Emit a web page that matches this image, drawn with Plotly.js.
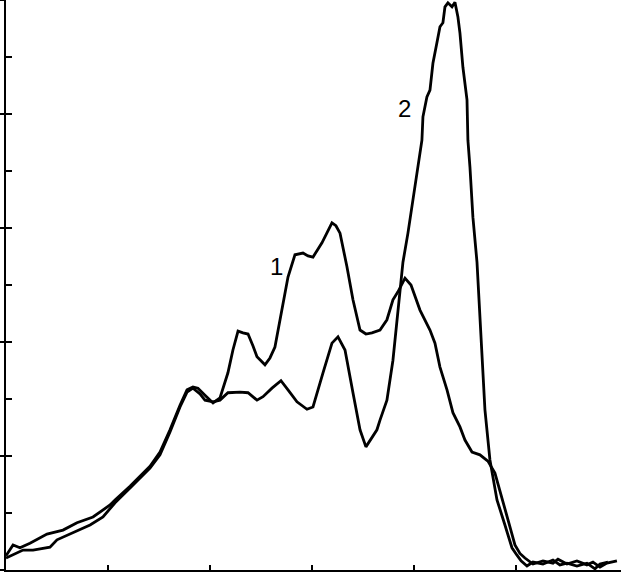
<!DOCTYPE html>
<html>
<head>
<meta charset="utf-8">
<script src="https://cdn.plot.ly/plotly-3.0.1.min.js"></script>
<style>html,body{margin:0;padding:0;background:#fff;}#chart{width:621px;height:573px;}</style>
</head>
<body>
<div id="chart"></div>
<script>
// Curve 1
const x1 = [0, 6.9, 13.7, 23.5, 40.2, 55.9, 69.6, 85.3, 102, 106.9, 121.6, 141.2, 151, 160.8, 170.6, 177.5, 183.3, 188.2, 196.1, 203, 209.8, 217.6, 222.5, 227.5, 232.4, 237.3, 242.2, 246.1, 253.9, 258.8, 263.7, 270.6, 276.5, 283.3, 291.2, 296.1, 301, 309.8, 314.7, 319.6, 323.5, 327.5, 334.3, 340.2, 347.1, 352.9, 358.8, 366.7, 373.5, 379.4, 384.3, 391.2, 397.1, 405.9, 415.7, 420.6, 425.5, 432.4, 438.2, 445.1, 450, 456.9, 464.7, 472.5, 479.4, 486.3, 492.2, 499, 503.9, 508.8, 516.7, 526.5, 536.3, 541.2, 550, 559.8, 569.6, 575.5, 582.4, 589.2, 599];
const y1 = [2.5, 4.4, 3.9, 4.7, 6.3, 7.0, 8.3, 9.3, 11.4, 12.3, 14.7, 18.2, 20.7, 24.6, 28.9, 31.6, 32.1, 31.9, 30.5, 29.3, 30.2, 34.6, 38.6, 41.9, 41.6, 41.4, 39.3, 37.4, 36.0, 37.2, 39.1, 45.6, 51.4, 55.3, 55.6, 55.1, 54.9, 57.4, 59.3, 60.9, 60.4, 59.1, 53.2, 47.4, 42.1, 41.4, 41.6, 42.1, 43.9, 47.4, 48.8, 51.2, 50.0, 45.6, 42.1, 39.8, 35.6, 31.6, 27.6, 25.1, 22.8, 20.7, 20.2, 19.1, 17.0, 12.8, 8.8, 4.4, 2.9, 2.1, 1.05, 1.6, 1.2, 1.9, 1.05, 1.6, 0.9, 1.4, 0.5, 1.2, 1.6];

// Curve 2
const x2 = [0, 10.8, 16.7, 26.5, 43.1, 50, 65.7, 82.4, 95.1, 106.9, 121.6, 141.2, 151, 160.8, 170.6, 177.5, 183.3, 190.2, 195.1, 203, 209.8, 217.6, 229.4, 237.3, 246.1, 252, 260.8, 269.6, 276.5, 285.3, 295.1, 301, 310.8, 319.6, 325.5, 332.4, 340.2, 347.1, 352.9, 363.7, 366.7, 373.5, 379.4, 384.3, 389.2, 394.1, 399, 403.9, 407.8, 408.8, 412.7, 415.7, 418.6, 422.5, 425.5, 428.4, 430.4, 433.3, 437.3, 440.2, 443.1, 445.1, 448, 452, 452.9, 454.9, 457.8, 461.8, 464.7, 467.6, 469.6, 474.5, 481.4, 489.2, 496.1, 501, 505, 510.8, 516.7, 526.5, 536.3, 543.1, 550, 559.8, 569.6, 577.5, 582.4, 590.2, 599];
const y2 = [2.1, 3.0, 3.5, 3.5, 4.0, 5.3, 6.5, 7.9, 9.3, 11.8, 14.4, 17.9, 20.2, 24.2, 28.6, 31.2, 31.9, 30.9, 29.8, 29.5, 29.8, 31.1, 31.2, 31.1, 29.8, 30.4, 31.9, 33.2, 31.6, 29.5, 28.2, 28.6, 34.6, 39.8, 40.9, 38.6, 31.1, 24.6, 21.6, 24.6, 26.3, 29.8, 36.8, 45.6, 54.0, 59.1, 64.9, 70.7, 75.4, 79.5, 83.0, 84.2, 88.9, 92.5, 95.3, 96.0, 98.8, 99.5, 98.8, 99.6, 97.0, 94.2, 88.2, 82.5, 75.4, 70.7, 61.9, 54.0, 43.9, 35.1, 28.1, 19.3, 12.3, 7.9, 3.9, 2.6, 1.6, 0.7, 1.4, 1.05, 1.75, 0.9, 1.2, 0.7, 1.2, 0.2, 1.05, 1.4];

const labels = ["1", "2"];
const labelX = [265.7, 391.2];
const labelY = [53.3, 81];

const lineStyle = {color: '#000', width: 2.8};
const traces = [
  {x: x1, y: y1, type: 'scatter', mode: 'lines', line: lineStyle, hoverinfo: 'skip', yaxis: 'y'},
  {x: x2, y: y2, type: 'scatter', mode: 'lines', line: lineStyle, hoverinfo: 'skip', yaxis: 'y2'}
];

const layout = {
  width: 621, height: 573,
  margin: {l: 6, r: 0, t: 0, b: 3, pad: 0},
  paper_bgcolor: '#fff', plot_bgcolor: '#fff',
  showlegend: false,
  font: {family: 'Liberation Sans, Arial, sans-serif', color: '#000'},
  xaxis: {
    range: [0, 603], showgrid: false, zeroline: false,
    showline: true, linecolor: '#000', linewidth: 2,
    ticks: 'inside', ticklen: 5, tickwidth: 2, tickcolor: '#000',
    tickmode: 'array', tickvals: [100, 200, 300, 400, 500],
    showticklabels: false
  },
  yaxis: {
    range: [0, 100], showgrid: false, zeroline: false,
    showline: true, linecolor: '#000', linewidth: 2,
    ticks: 'outside', ticklen: 6, tickwidth: 2, tickcolor: '#000',
    tick0: 0, dtick: 20, showticklabels: false
  },
  yaxis2: {
    range: [0, 100], overlaying: 'y', side: 'left', showgrid: false, zeroline: false,
    showline: false, ticks: 'inside', ticklen: 6, tickwidth: 2, tickcolor: '#000',
    tick0: 0, dtick: 10, showticklabels: false
  },
  annotations: labels.map((t, i) => ({
    x: labelX[i], y: labelY[i], xref: 'x', yref: 'y', text: t, showarrow: false,
    font: {family: 'Liberation Sans, Arial, sans-serif', size: 24, color: '#000'}
  }))
};

Plotly.newPlot('chart', traces, layout, {displayModeBar: false, staticPlot: true});
</script>
</body>
</html>
